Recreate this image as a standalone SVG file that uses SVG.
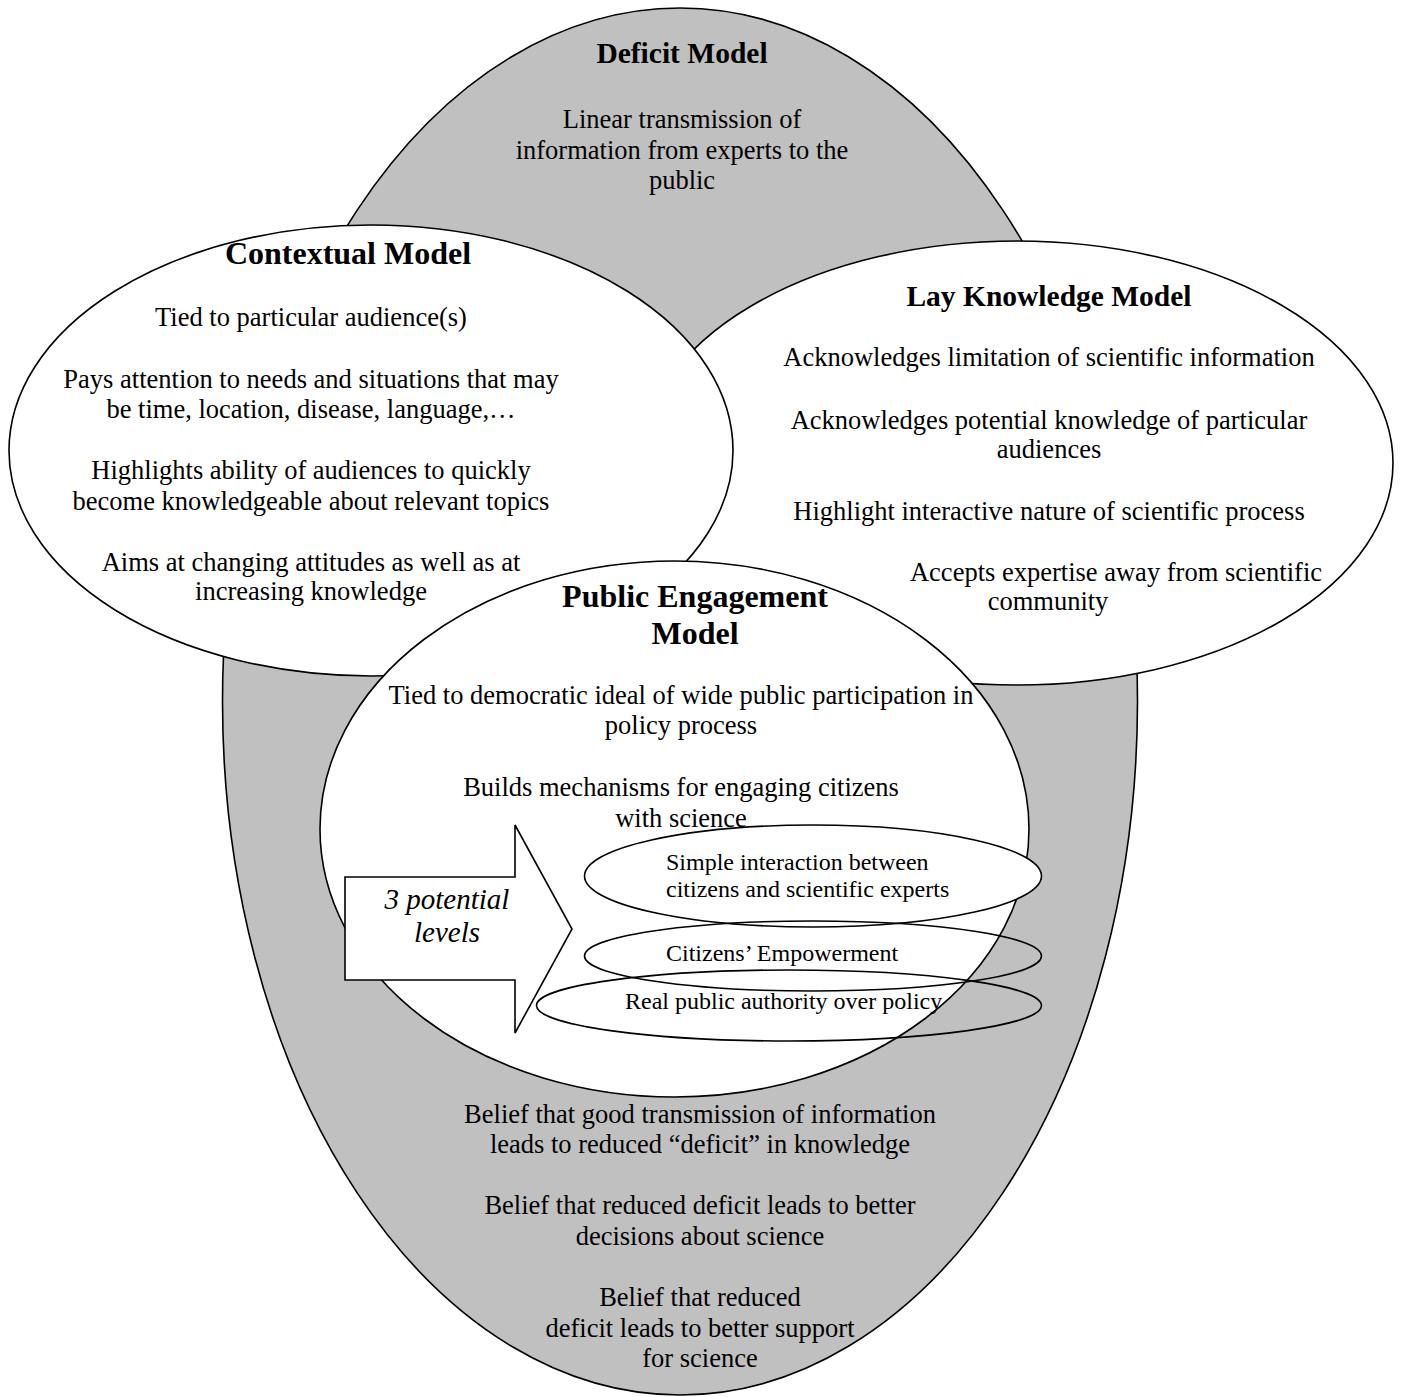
<svg xmlns="http://www.w3.org/2000/svg" width="1403" height="1397" viewBox="0 0 1403 1397">
<style>
  .shape { stroke: #000; stroke-width: 1.6; }
  .gray { fill: #c0c0c0; }
  .white { fill: #fff; }
  .none { fill: none; }
  text { font-family: "Liberation Serif", "Times New Roman", serif; fill: #000; }
  .c { text-anchor: middle; }
  .body { font-size: 26.5px; }
  .small { font-size: 24px; }
  .t32 { font-size: 32px; font-weight: bold; }
  .t29 { font-size: 29.5px; font-weight: bold; }
  .it { font-size: 29px; font-style: italic; }
</style>
<rect width="1403" height="1397" fill="#fff"/>

<g id="deficit-model">
  <ellipse class="shape gray" cx="680" cy="701.5" rx="457.5" ry="693.5"/>
  <text class="t29 c" x="682" y="63">Deficit Model</text>
  <text class="body c" x="682" y="128">Linear transmission of</text>
  <text class="body c" x="682" y="159">information from experts to the</text>
  <text class="body c" x="682" y="189">public</text>
  <text class="body c" x="700" y="1123">Belief that good transmission of information</text>
  <text class="body c" x="700" y="1153">leads to reduced “deficit” in knowledge</text>
  <text class="body c" x="700" y="1214">Belief that reduced deficit leads to better</text>
  <text class="body c" x="700" y="1245">decisions about science</text>
  <text class="body c" x="700" y="1306">Belief that reduced</text>
  <text class="body c" x="700" y="1337">deficit leads to better support</text>
  <text class="body c" x="700" y="1367">for science</text>
</g>

<g id="lay-knowledge-model">
  <ellipse class="shape white" cx="1017" cy="463" rx="376" ry="222"/>
  <text class="t29 c" x="1049" y="306">Lay Knowledge Model</text>
  <text class="body c" x="1049" y="366">Acknowledges limitation of scientific information</text>
  <text class="body c" x="1049" y="429">Acknowledges potential knowledge of particular</text>
  <text class="body c" x="1049" y="458">audiences</text>
  <text class="body c" x="1049" y="520">Highlight interactive nature of scientific process</text>
  <text class="body c" x="1116" y="581">Accepts expertise away from scientific</text>
  <text class="body c" x="1048" y="610">community</text>
</g>

<g id="contextual-model">
  <ellipse class="shape white" cx="371" cy="450.5" rx="362" ry="225.5"/>
  <text class="t32 c" x="348" y="264">Contextual Model</text>
  <text class="body c" x="311" y="326">Tied to particular audience(s)</text>
  <text class="body c" x="311" y="388">Pays attention to needs and situations that may</text>
  <text class="body c" x="311" y="418">be time, location, disease, language,…</text>
  <text class="body c" x="311" y="479">Highlights ability of audiences to quickly</text>
  <text class="body c" x="311" y="510">become knowledgeable about relevant topics</text>
  <text class="body c" x="311" y="571">Aims at changing attitudes as well as at</text>
  <text class="body c" x="311" y="600">increasing knowledge</text>
</g>

<g id="public-engagement-model">
  <ellipse class="shape white" cx="674.5" cy="829" rx="354.5" ry="268"/>
  <text class="t32 c" x="695" y="607">Public Engagement</text>
  <text class="t32 c" x="695" y="644">Model</text>
  <text class="body c" x="681" y="704">Tied to democratic ideal of wide public participation in</text>
  <text class="body c" x="681" y="734">policy process</text>
  <text class="body c" x="681" y="796">Builds mechanisms for engaging citizens</text>
  <text class="body c" x="681" y="827">with science</text>
</g>

<g id="connectors">
  <g id="potential-levels-arrow">
    <polygon class="shape white" points="345,877 515,877 515,825 572,929 515,1033 515,980 345,980"/>
    <text class="it c" x="447" y="909">3 potential</text>
    <text class="it c" x="447" y="942">levels</text>
  </g>
</g>

<g id="level-simple-interaction">
  <ellipse class="shape white" cx="813" cy="876" rx="228.5" ry="51"/>
  <text class="small" x="666" y="870">Simple interaction between</text>
  <text class="small" x="666" y="897">citizens and scientific experts</text>
</g>

<g id="level-citizens-empowerment">
  <ellipse class="shape none" cx="813" cy="956" rx="228.5" ry="35"/>
  <text class="small" x="666" y="961">Citizens’ Empowerment</text>
</g>

<g id="level-real-public-authority">
  <ellipse class="shape none" cx="789" cy="1005.5" rx="252.5" ry="35.5"/>
  <text class="small" x="625" y="1009">Real public authority over policy</text>
</g>
</svg>
